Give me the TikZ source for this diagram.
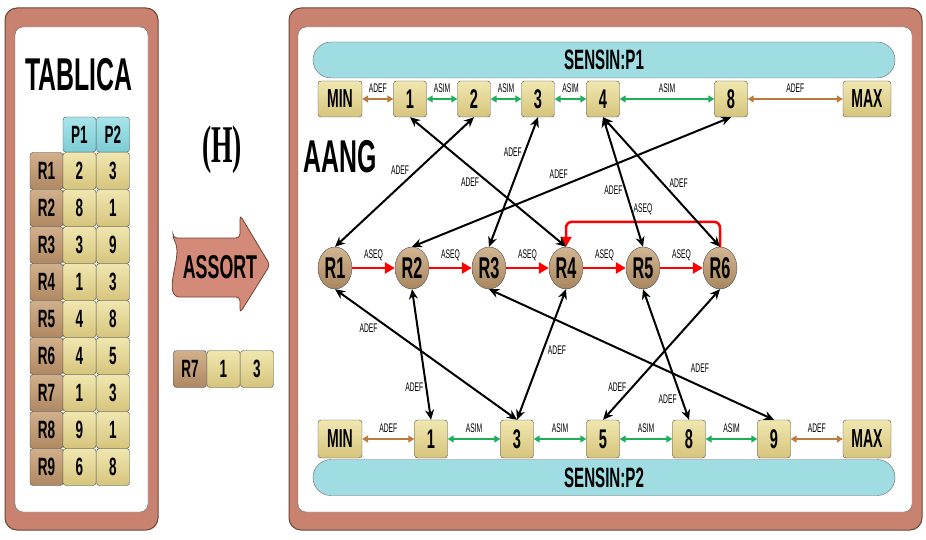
\documentclass[tikz,border=0pt]{standalone}
\usepackage{fontspec}
\usepackage{tikz}
\usetikzlibrary{arrows.meta, shapes.geometric}
\newfontfamily\condfont[FakeStretch=0.54]{Liberation Sans}
\newfontfamily\condserif[FakeStretch=0.52]{Liberation Serif}
\definecolor{framefill}{HTML}{C8826F}
\definecolor{frameline}{HTML}{6B4538}
\definecolor{cellhi}{HTML}{F0E7B0}
\definecolor{celllo}{HTML}{D6C47C}
\definecolor{rowhi}{HTML}{D3B08C}
\definecolor{rowlo}{HTML}{AE8862}
\definecolor{headhi}{HTML}{A8E4EA}
\definecolor{headlo}{HTML}{7CCCD4}
\definecolor{barfill}{HTML}{9FDDE3}
\definecolor{ballhi}{HTML}{D2B592}
\definecolor{balllo}{HTML}{A8875F}
\definecolor{adefbrown}{HTML}{BC7A3C}
\definecolor{asimgreen}{HTML}{1DAF5A}
\definecolor{assortfill}{HTML}{D48A78}

\begin{document}
\begin{tikzpicture}[x=1pt, y=-1pt]
\tikzstyle{every node}+=[inner sep=0pt]
\tikzstyle{cell}=[draw=black!70, rounded corners=3pt, top color=cellhi, bottom color=celllo, minimum width=33pt, minimum height=37pt, font=\condfont\bfseries\fontsize{25}{25}\selectfont]
\tikzstyle{rowcell}=[cell, top color=rowhi, bottom color=rowlo]
\tikzstyle{headcell}=[cell, top color=headhi, bottom color=headlo, minimum height=35pt]
\tikzstyle{valbox}=[cell, minimum height=36pt, font=\condfont\bfseries\fontsize{27}{27}\selectfont]
\tikzstyle{endbox}=[valbox, font=\condfont\bfseries\fontsize{26}{26}\selectfont]
\tikzstyle{rnode}=[ellipse, draw=black!70, top color=ballhi, bottom color=balllo, minimum width=34pt, minimum height=42pt, font=\condfont\bfseries\fontsize{30}{30}\selectfont]
\tikzstyle{bar}=[draw=black!60, fill=barfill, rounded corners=18pt, minimum width=582pt, minimum height=36pt, font=\condfont\bfseries\fontsize{28}{28}\selectfont]
\tikzstyle{title}=[font=\condfont\bfseries\fontsize{46}{46}\selectfont]
\tikzstyle{lbl}=[inner sep=1pt, text=black, font=\condfont\fontsize{12.5}{12.5}\selectfont]
\tikzstyle{adef}=[black, line width=2pt, {Stealth[length=10pt,width=9pt]}-{Stealth[length=10pt,width=9pt]}]
\tikzstyle{brownarr}=[adefbrown, line width=1.6pt, {Triangle[length=6pt,width=7pt]}-{Triangle[length=6pt,width=7pt]}]
\tikzstyle{greenarr}=[asimgreen, line width=1.6pt, {Triangle[length=6pt,width=7pt]}-{Triangle[length=6pt,width=7pt]}]
\tikzstyle{aseq}=[red, line width=2.5pt, -{Triangle[length=10pt,width=11pt]}]
\useasboundingbox (0,0) rectangle (926,540);
\fill [white] (0,0) rectangle (926,540);
\draw [frameline, fill=framefill, line width=1pt, rounded corners=12pt] (5,8) rectangle (158,530);
\draw [black!60, fill=white, rounded corners=8pt] (15,27) rectangle (148,512);
\draw [frameline, fill=framefill, line width=1pt, rounded corners=12pt] (289,8) rectangle (922,530);
\draw [black!60, fill=white, rounded corners=8pt] (298,27) rectangle (912,512);
\node [title] (tablica) at (79,75) {TABLICA};
\node [headcell] (hP1) at (79.5,134.5) {P1};
\node [headcell] (hP2) at (113,134.5) {P2};
\node [rowcell] (tr1) at (46.5,171) {R1};
\node [cell] (tp1) at (79.5,171) {2};
\node [cell] (tq1) at (113,171) {3};
\node [rowcell] (tr2) at (46.5,208) {R2};
\node [cell] (tp2) at (79.5,208) {8};
\node [cell] (tq2) at (113,208) {1};
\node [rowcell] (tr3) at (46.5,245) {R3};
\node [cell] (tp3) at (79.5,245) {3};
\node [cell] (tq3) at (113,245) {9};
\node [rowcell] (tr4) at (46.5,282) {R4};
\node [cell] (tp4) at (79.5,282) {1};
\node [cell] (tq4) at (113,282) {3};
\node [rowcell] (tr5) at (46.5,319) {R5};
\node [cell] (tp5) at (79.5,319) {4};
\node [cell] (tq5) at (113,319) {8};
\node [rowcell] (tr6) at (46.5,356) {R6};
\node [cell] (tp6) at (79.5,356) {4};
\node [cell] (tq6) at (113,356) {5};
\node [rowcell] (tr7) at (46.5,393) {R7};
\node [cell] (tp7) at (79.5,393) {1};
\node [cell] (tq7) at (113,393) {3};
\node [rowcell] (tr8) at (46.5,430) {R8};
\node [cell] (tp8) at (79.5,430) {9};
\node [cell] (tq8) at (113,430) {1};
\node [rowcell] (tr9) at (46.5,467) {R9};
\node [cell] (tp9) at (79.5,467) {6};
\node [cell] (tq9) at (113,467) {8};
\node [font=\condserif\bfseries\fontsize{53}{53}\selectfont] (hlab) at (222,150) {(H)};
\draw [frameline, fill=assortfill, line width=0.8pt, rounded corners=4pt] (173,238) -- (240,238) -- (240,215) -- (270,265) -- (240,313) -- (240,297) -- (175,297) .. controls (168,280) and (182,255) .. cycle;
\node [font=\condfont\bfseries\fontsize{33}{33}\selectfont] (assort) at (220,267) {ASSORT};
\node [rowcell] (x7) at (190,369) {R7};
\node [cell] (x7a) at (223.5,369) {1};
\node [cell] (x7b) at (257,369) {3};
\node [title] (aang) at (340,157) {AANG};
\node [bar] (barP1) at (604,60) {SENSIN:P1};
\node [bar] (barP2) at (604,477.5) {SENSIN:P2};
\node [endbox, minimum width=44pt] (sMIN) at (340,99) {MIN};
\node [valbox] (s1) at (410,99) {1};
\node [valbox] (s2) at (474,99) {2};
\node [valbox] (s3) at (538,99) {3};
\node [valbox] (s4) at (603,99) {4};
\node [valbox] (s8) at (731,99) {8};
\node [endbox, minimum width=48pt] (sMAX) at (867,99) {MAX};
\node [endbox, minimum width=44pt, minimum height=38pt] (qMIN) at (340,439) {MIN};
\node [valbox, minimum height=38pt] (q1) at (431,439) {1};
\node [valbox, minimum height=38pt] (q3) at (517,439) {3};
\node [valbox, minimum height=38pt] (q5) at (603,439) {5};
\node [valbox, minimum height=38pt] (q8) at (689,439) {8};
\node [valbox, minimum height=38pt] (q9) at (774,439) {9};
\node [endbox, minimum width=48pt, minimum height=38pt] (qMAX) at (867,439) {MAX};
\node [rnode] (R1) at (335,268) {R1};
\node [rnode] (R2) at (412,268) {R2};
\node [rnode] (R3) at (489,268) {R3};
\node [rnode] (R4) at (566,268) {R4};
\node [rnode] (R5) at (643,268) {R5};
\node [rnode] (R6) at (720,268) {R6};
\draw [brownarr] (sMIN) -- node [lbl, above=5pt] {ADEF} (s1);
\draw [greenarr] (s1) -- node [lbl, above=5pt] {ASIM} (s2);
\draw [greenarr] (s2) -- node [lbl, above=5pt] {ASIM} (s3);
\draw [greenarr] (s3) -- node [lbl, above=5pt] {ASIM} (s4);
\draw [greenarr] (s4) -- node [lbl, above=5pt] {ASIM} (s8);
\draw [brownarr] (s8) -- node [lbl, above=5pt] {ADEF} (sMAX);
\draw [brownarr] (qMIN) -- node [lbl, above=5pt] {ADEF} (q1);
\draw [greenarr] (q1) -- node [lbl, above=5pt] {ASIM} (q3);
\draw [greenarr] (q3) -- node [lbl, above=5pt] {ASIM} (q5);
\draw [greenarr] (q5) -- node [lbl, above=5pt] {ASIM} (q8);
\draw [greenarr] (q8) -- node [lbl, above=5pt] {ASIM} (q9);
\draw [brownarr] (q9) -- node [lbl, above=5pt] {ADEF} (qMAX);
\draw [aseq] (R1) -- node [lbl, above=5pt] {ASEQ} (R2);
\draw [aseq] (R2) -- node [lbl, above=5pt] {ASEQ} (R3);
\draw [aseq] (R3) -- node [lbl, above=5pt] {ASEQ} (R4);
\draw [aseq] (R4) -- node [lbl, above=5pt] {ASEQ} (R5);
\draw [aseq] (R5) -- node [lbl, above=5pt] {ASEQ} (R6);
\draw [aseq, rounded corners=6pt] (R6.north) -- ++(0,-25) -| node [lbl, pos=0.25, above=5pt] {ASEQ} (R4.north);
\draw [adef] (R1.north) -- node [lbl, pos=0.59, left=6pt] {ADEF} (s2.south);
\draw [adef] (R4.north) -- node [lbl, pos=0.5, left=7pt] {ADEF} (s1.south);
\draw [adef] (R3.north) -- node [lbl, pos=0.73, left=1pt] {ADEF} (s3.south);
\draw [adef] (R2.north) -- node [lbl, pos=0.46, above=7pt] {ADEF} (s8.south);
\draw [adef] (R5.north) -- node [lbl, pos=0.44, left=1pt] {ADEF} (s4.south);
\draw [adef] (R6.north) -- node [lbl, pos=0.49, right=5pt] {ADEF} (s4.south);
\draw [adef] (R1.south) -- node [lbl, pos=0.3, left=10pt] {ADEF} (q3.north);
\draw [adef] (R2.south) -- node [lbl, pos=0.75, left=1pt] {ADEF} (q1.north);
\draw [adef] (R4.south) -- node [lbl, pos=0.47, right=3pt] {ADEF} (q3.north);
\draw [adef] (R3.south) -- node [lbl, pos=0.74, above=11pt] {ADEF} (q9.north);
\draw [adef] (R6.south) -- node [lbl, pos=0.75, left=4pt] {ADEF} (q5.north);
\draw [adef] (R5.south) -- node [lbl, pos=0.84, left=3pt] {ADEF} (q8.north);
\end{tikzpicture}
\end{document}
